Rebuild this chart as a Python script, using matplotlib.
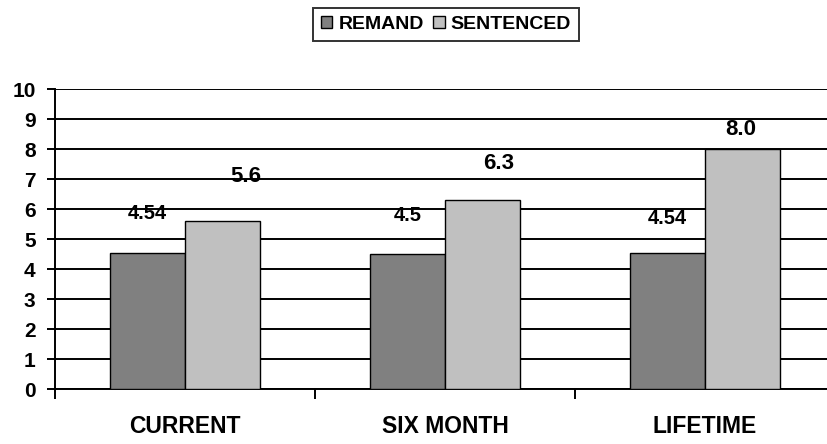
import numpy as np
import matplotlib.pyplot as plt

plt.rcParams['font.family'] = ['Liberation Sans', 'DejaVu Sans']
plt.rcParams['font.weight'] = 'bold'

# data
categories = ["CURRENT", "SIX MONTH", "LIFETIME"]
remand = [4.54, 4.5, 4.54]
sentenced = [5.6, 6.3, 8.0]
remand_labels = ["4.54", "4.5", "4.54"]
sentenced_labels = ["5.6", "6.3", "8.0"]

# label offsets from the bar top (pixels), as placed in the original
remand_off = [(0, 39), (0, 39), (0, 34)]
sentenced_off = [(23, 45), (16, 37), (-2, 20)]

fig = plt.figure(figsize=(8.28, 4.44), dpi=100)
ax = fig.add_axes([55 / 828, 55 / 444, 780 / 828, 300 / 444])

x = np.arange(len(categories))
w = 0.29
b1 = ax.bar(x - w / 2, remand, w, color="#808080", edgecolor="black", linewidth=1, label="REMAND", zorder=3)
b2 = ax.bar(x + w / 2, sentenced, w, color="#C0C0C0", edgecolor="black", linewidth=1, label="SENTENCED", zorder=3)

for i in range(len(categories)):
    ax.annotate(remand_labels[i], (x[i] - w / 2, remand[i]), xytext=remand_off[i],
                textcoords="offset pixels", ha="center", va="center", fontsize=14.5, fontweight="bold", zorder=4)
    ax.annotate(sentenced_labels[i], (x[i] + w / 2, sentenced[i]), xytext=sentenced_off[i],
                textcoords="offset pixels", ha="center", va="center", fontsize=16, fontweight="bold", zorder=4)

ax.set_xlim(-0.5, 2.5)
ax.set_ylim(0, 10)
ax.set_yticks(range(0, 11))
ax.yaxis.grid(True, color="black", linewidth=1.4, zorder=0)
ax.set_axisbelow(True)
ax.tick_params(axis="y", length=6, width=1.4, labelsize=15, pad=8)

# category labels centred, ticks between categories
ax.set_xticks([-0.5, 0.5, 1.5])
ax.set_xticklabels([])
ax.set_xticks(x, minor=True)
ax.set_xticklabels(categories, minor=True, fontsize=16.5, fontweight="bold")
ax.tick_params(axis="x", which="major", length=7, width=1.4, direction="out")
ax.tick_params(axis="x", which="minor", length=0, pad=19)

for s in ["top", "right"]:
    ax.spines[s].set_visible(False)
ax.spines["left"].set_linewidth(1.4)
ax.spines["bottom"].set_linewidth(1.4)

leg = fig.legend(handles=[b1, b2], loc="center", bbox_to_anchor=(446 / 828, 1 - 24.5 / 444), ncol=2,
                 frameon=True, fancybox=False, edgecolor="black", fontsize=14, handlelength=0.6,
                 handleheight=0.6, handletextpad=0.3, columnspacing=0.5, borderpad=0.4)
leg.get_frame().set_linewidth(1.4)
for t in leg.get_texts():
    t.set_fontweight("bold")

plt.savefig("out.png", dpi=100)
